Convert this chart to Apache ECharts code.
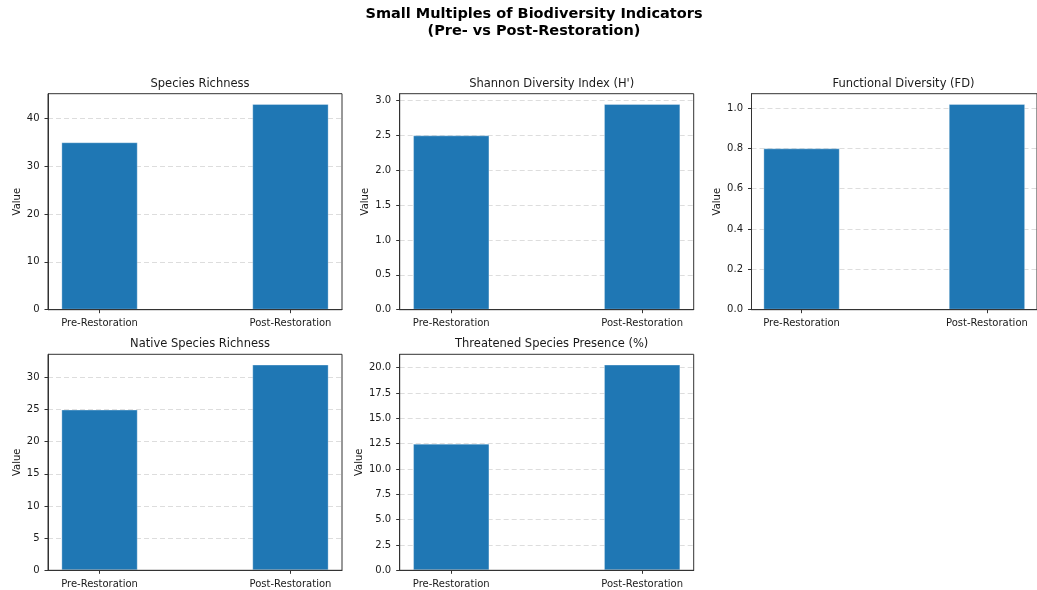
<!DOCTYPE html>
<html>
<head>
<meta charset="utf-8">
<title>Small Multiples of Biodiversity Indicators</title>
<script src="https://cdn.jsdelivr.net/npm/echarts@6/dist/echarts.min.js"></script>
<style>
  html, body { margin: 0; padding: 0; background: #ffffff; }
  #chart { width: 1037px; height: 590px; }
</style>
</head>
<body>
<div id="chart"></div>
<script>
// Categories shared by every panel
const categories = ['Pre-Restoration', 'Post-Restoration'];

// Indicator values (pre, post)
const speciesRichness = [35, 43];
const shannonIndex = [2.5, 2.95];
const functionalDiversity = [0.8, 1.02];
const nativeRichness = [25, 32];
const threatenedPresence = [12.5, 20.3];

// Panel titles
const panelTitles = [
  'Species Richness',
  "Shannon Diversity Index (H')",
  'Functional Diversity (FD)',
  'Native Species Richness',
  'Threatened Species Presence (%)'
];

// Y tick values per panel
const yTicks = [
  [0, 10, 20, 30, 40],
  [0, 0.5, 1.0, 1.5, 2.0, 2.5, 3.0],
  [0, 0.2, 0.4, 0.6, 0.8, 1.0],
  [0, 5, 10, 15, 20, 25, 30],
  [0, 2.5, 5.0, 7.5, 10.0, 12.5, 15.0, 17.5, 20.0]
];
const yTickStep = [10, 0.5, 0.2, 5, 2.5];
const yDecimals = [0, 1, 1, 0, 1];

const panelValues = [speciesRichness, shannonIndex, functionalDiversity, nativeRichness, threatenedPresence];

// Layout of the 2x3 grid of panels
const colLeft = [48, 399.7, 751.5];
const rowTop = [93.7, 354.3];
const panelW = 294;
const panelH = 216;
const nameGaps = [25, 29, 29, 25, 35];

// x-range around the two bars (bar width 0.4 plus 5% margins)
const xMin = -0.27, xMax = 1.27;
const barWidthPx = 0.4 / (xMax - xMin) * panelW;

const FONT = 'DejaVu Sans';
const TEXT = '#1a1a1a';
const SPINE = '#333333';

const grids = [], xAxes = [], yAxes = [], series = [], titles = [];

titles.push({
  text: 'Small Multiples of Biodiversity Indicators\n(Pre- vs Post-Restoration)',
  left: 529, top: 1, textAlign: 'center',
  textStyle: { fontFamily: FONT, fontSize: 14.5, fontWeight: 'bold', color: '#000', lineHeight: 17 }
});

panelValues.forEach((vals, i) => {
  const col = i % 3, row = Math.floor(i / 3);
  const left = colLeft[col], top = rowTop[row];
  grids.push({
    left: left, top: top, width: panelW, height: panelH,
    show: true, borderColor: SPINE, borderWidth: 1, backgroundColor: 'transparent',
    containLabel: false, z: 5
  });
  titles.push({
    text: panelTitles[i],
    left: left + panelW / 2, top: top - 21, textAlign: 'center',
    textStyle: { fontFamily: FONT, fontSize: 11.5, fontWeight: 'normal', color: TEXT }
  });
  xAxes.push({
    type: 'value', gridIndex: i, min: xMin, max: xMax,
    axisLine: { show: true, onZero: false, lineStyle: { color: SPINE, width: 1 } },
    axisTick: { show: true, inside: false, length: 3.5, customValues: [0, 1], lineStyle: { color: SPINE } },
    axisLabel: {
      customValues: [0, 1], margin: 9,
      fontFamily: FONT, fontSize: 10, color: TEXT,
      formatter: v => categories[Math.round(v)]
    },
    splitLine: { show: false },
    z: 5
  });
  const dec = yDecimals[i];
  yAxes.push({
    type: 'value', gridIndex: i, min: 0, interval: yTickStep[i],
    max: e => e.max * 1.05,
    name: 'Value', nameLocation: 'middle', nameGap: nameGaps[i], nameRotate: 90,
    nameTextStyle: { fontFamily: FONT, fontSize: 10, color: TEXT },
    axisLine: { show: true, onZero: false, lineStyle: { color: SPINE, width: 1 } },
    axisTick: { show: true, inside: false, length: 3.5, customValues: yTicks[i], lineStyle: { color: SPINE } },
    axisLabel: {
      customValues: yTicks[i], margin: 8.5,
      fontFamily: FONT, fontSize: 10, color: TEXT,
      formatter: v => Number(v).toFixed(dec)
    },
    splitLine: { show: true, lineStyle: { color: '#d4d4d4', width: 0.8, type: [5, 3] } }
  });
  series.push({
    type: 'bar', xAxisIndex: i, yAxisIndex: i,
    data: vals.map((v, k) => [k, v]),
    barWidth: barWidthPx,
    itemStyle: { color: '#1f77b4', borderColor: 'rgba(255,255,255,0.3)', borderWidth: 1 },
    emphasis: { disabled: true },
    animation: false
  });
});

const chart = echarts.init(document.getElementById('chart'), null, { renderer: 'canvas' });
chart.setOption({
  animation: false,
  backgroundColor: '#ffffff',
  title: titles,
  grid: grids,
  xAxis: xAxes,
  yAxis: yAxes,
  series: series
});
</script>
</body>
</html>
